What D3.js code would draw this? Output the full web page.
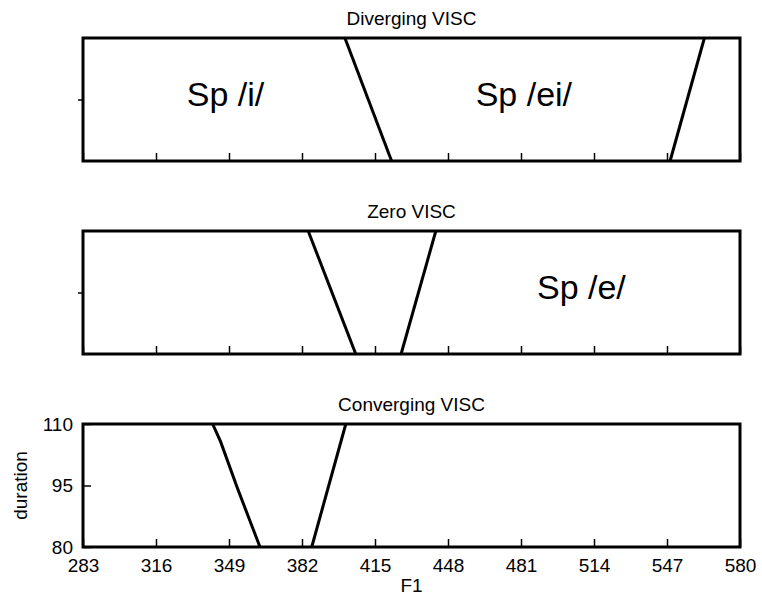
<!DOCTYPE html>
<html>
<head>
<meta charset="utf-8">
<script src="https://cdn.jsdelivr.net/npm/d3@7"></script>
<style>
  body { margin: 0; background: #fff; }
  text { font-family: "Liberation Sans", Arial, sans-serif; fill: #000; }
</style>
</head>
<body>
<svg width="762" height="599"></svg>
<script>
const svg = d3.select("svg");
const margin = { top: 38, left: 83, right: 22 };
const width = +svg.attr("width") - margin.left - margin.right;
const panelHeight = 123;
const panelStep = 193;

const titles = ["Diverging VISC", "Zero VISC", "Converging VISC"];
const f1Ticks = [283, 316, 349, 382, 415, 448, 481, 514, 547, 580];
const durationTicks = [80, 95, 110];

// category boundaries, [F1, duration] points per panel
const divergingLines = [
    [[401.4, 110], [422.5, 80]],
    [[563.9, 110], [548.4, 80]]
];
const zeroLines = [
    [[384.8, 110], [406.3, 80]],
    [[442.5, 110], [426.8, 80]]
];
const convergingLines = [
    [[341.6, 110], [345.2, 105.7], [352.7, 94.5], [363, 80]],
    [[401.8, 110], [386.4, 80]]
];
const boundaries = [divergingLines, zeroLines, convergingLines];

// region labels: [panel, F1, duration, text]
const regionLabels = [
    [0, 347.4, 93.3, "Sp /i/"],
    [0, 482.3, 93.3, "Sp /ei/"],
    [1, 508.3, 93.5, "Sp /e/"]
];

const x = d3.scaleLinear().domain([283, 580]).range([0, width]);
const y = d3.scaleLinear().domain([80, 110]).range([panelHeight, 0]);

const line = d3.line().x(d => x(d[0])).y(d => y(d[1]));

titles.forEach((title, i) => {
    const g = svg.append("g")
        .attr("transform", `translate(${margin.left},${margin.top + i * panelStep})`);

    g.append("text")
        .attr("x", width / 2)
        .attr("y", -13)
        .attr("text-anchor", "middle")
        .style("font-size", "19px")
        .text(title);

    const last = i === titles.length - 1;

    const xAxis = d3.axisBottom(x).tickValues(f1Ticks).tickSize(-8).tickPadding(last ? 12 : 0);
    if (!last) xAxis.tickFormat("");
    const xg = g.append("g").attr("transform", `translate(0,${panelHeight})`).call(xAxis);
    xg.select(".domain").remove();
    xg.selectAll("line").attr("stroke", "#000").attr("stroke-width", 1.5);
    xg.selectAll("text").style("font-size", "19px").attr("font-family", null);

    let yAxis;
    if (last) {
        yAxis = d3.axisLeft(y).tickValues(durationTicks).tickSize(-8).tickPadding(10);
    } else {
        yAxis = d3.axisLeft(y).tickValues([95]).tickSize(5).tickFormat("");
    }
    const yg = g.append("g").call(yAxis);
    yg.select(".domain").remove();
    yg.selectAll("line").attr("stroke", "#000").attr("stroke-width", 1.5);
    yg.selectAll("text").style("font-size", "19px").attr("font-family", null);

    boundaries[i].forEach(pts => {
        g.append("path")
            .attr("d", line(pts))
            .attr("fill", "none")
            .attr("stroke", "#000")
            .attr("stroke-width", 3);
    });

    regionLabels.filter(d => d[0] === i).forEach(d => {
        g.append("text")
            .attr("x", x(d[1]))
            .attr("y", y(d[2]))
            .attr("text-anchor", "middle")
            .style("font-size", "34px")
            .text(d[3]);
    });

    g.append("rect")
        .attr("width", width)
        .attr("height", panelHeight)
        .attr("fill", "none")
        .attr("stroke", "#000")
        .attr("stroke-width", 3);

    if (last) {
        g.append("text")
            .attr("x", width / 2)
            .attr("y", panelHeight + 45)
            .attr("text-anchor", "middle")
            .style("font-size", "19px")
            .text("F1");

        g.append("text")
            .attr("transform", `translate(${-56},${panelHeight / 2}) rotate(-90)`)
            .attr("text-anchor", "middle")
            .style("font-size", "19px")
            .text("duration");
    }
});
</script>
</body>
</html>
